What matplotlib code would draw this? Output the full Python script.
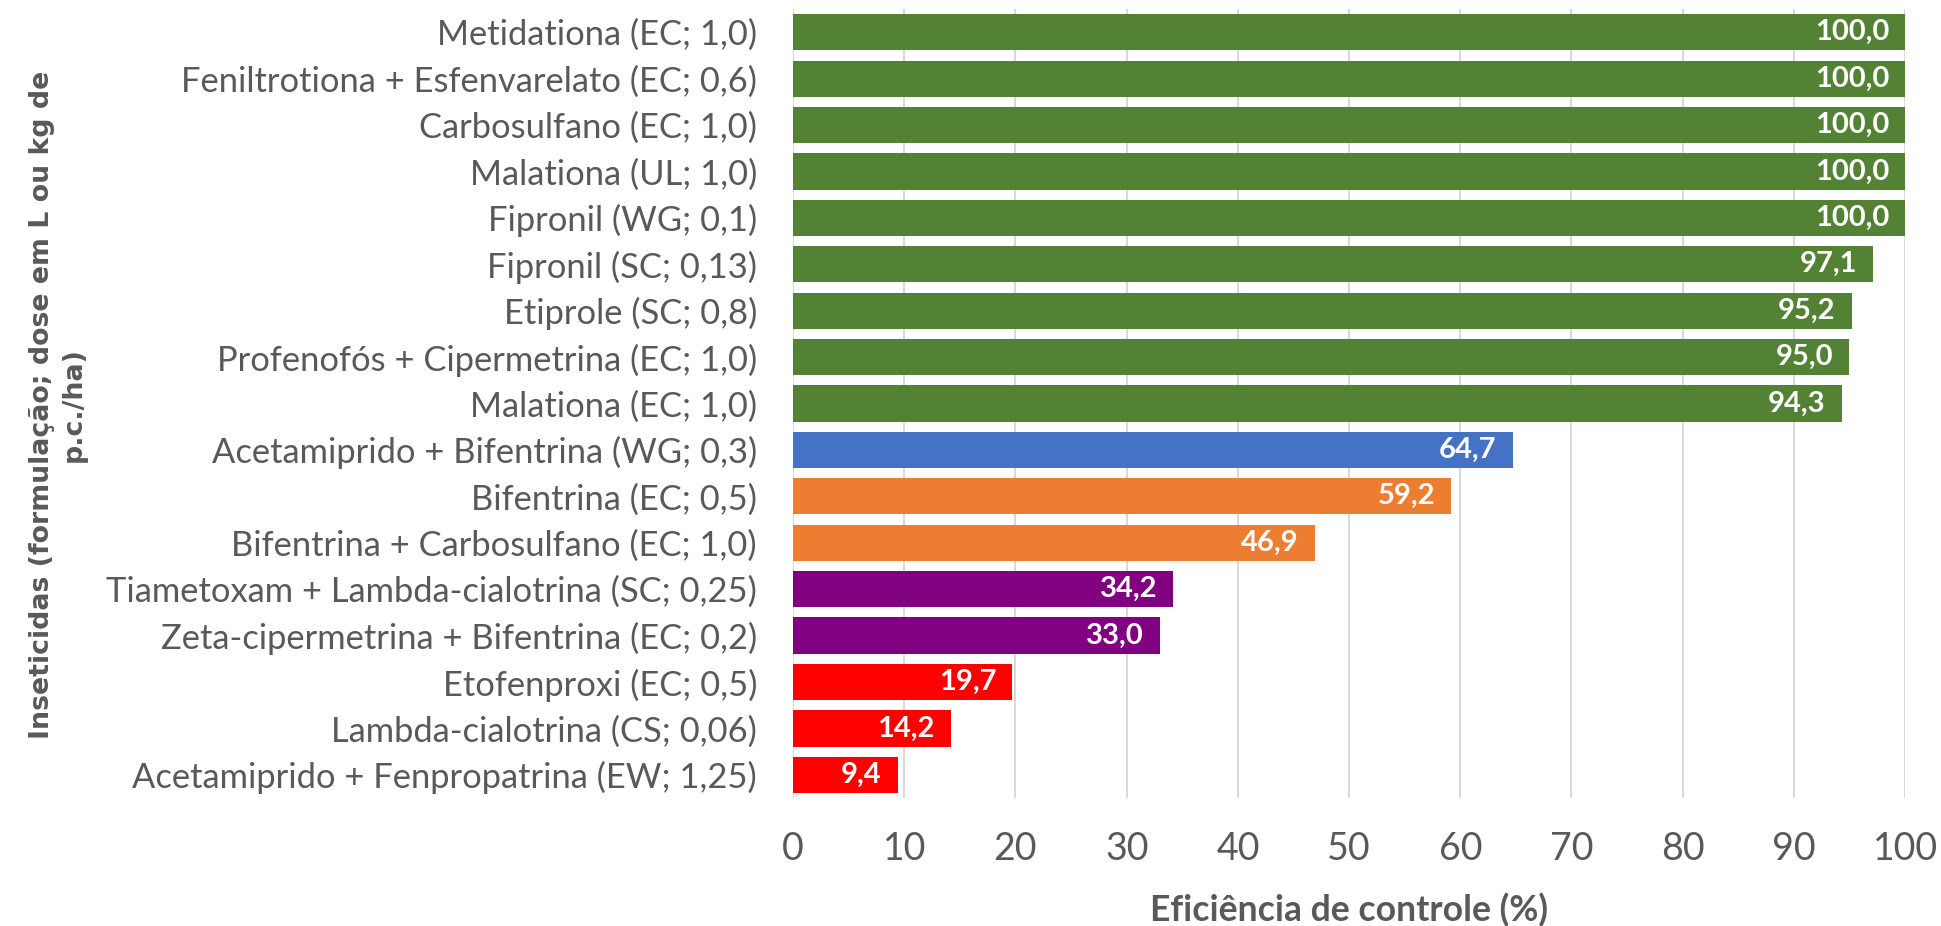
import numpy as np
import matplotlib.pyplot as plt

# Inseticidas e eficiência de controle (%)
produtos = [
    "Metidationa (EC; 1,0)",
    "Feniltrotiona + Esfenvarelato (EC; 0,6)",
    "Carbosulfano (EC; 1,0)",
    "Malationa (UL; 1,0)",
    "Fipronil (WG; 0,1)",
    "Fipronil (SC; 0,13)",
    "Etiprole (SC; 0,8)",
    "Profenofós + Cipermetrina (EC; 1,0)",
    "Malationa (EC; 1,0)",
    "Acetamiprido + Bifentrina (WG; 0,3)",
    "Bifentrina (EC; 0,5)",
    "Bifentrina + Carbosulfano (EC; 1,0)",
    "Tiametoxam + Lambda-cialotrina (SC; 0,25)",
    "Zeta-cipermetrina + Bifentrina (EC; 0,2)",
    "Etofenproxi (EC; 0,5)",
    "Lambda-cialotrina (CS; 0,06)",
    "Acetamiprido + Fenpropatrina (EW; 1,25)",
]
eficiencia = [100.0, 100.0, 100.0, 100.0, 100.0, 97.1, 95.2, 95.0, 94.3,
              64.7, 59.2, 46.9, 34.2, 33.0, 19.7, 14.2, 9.4]
grupo = ["verde"] * 9 + ["azul"] + ["laranja"] * 2 + ["roxo"] * 2 + ["vermelho"] * 3

cores = {
    "verde": "#548235",
    "azul": "#4472C4",
    "laranja": "#ED7D31",
    "roxo": "#800080",
    "vermelho": "#FF0000",
}
cinza = "#595959"

plt.rcParams['font.family'] = ['Lato', 'DejaVu Sans']

fig = plt.figure(figsize=(19.41, 9.26), dpi=100)
ax = fig.add_axes([0.4086, 0.1382, 0.5729, 0.8521])

y = np.arange(len(produtos))
barras = ax.barh(y, eficiencia, height=0.78,
                 color=[cores[g] for g in grupo], zorder=3)

for b, v in zip(barras, eficiencia):
    ax.annotate(f"{v:.1f}".replace('.', ','),
                xy=(b.get_width(), b.get_y() + b.get_height() / 2),
                xytext=(-16, 0), textcoords='offset pixels',
                ha='right', va='center', color='white',
                fontsize=21, fontweight='bold', zorder=4)

ax.set_xlim(0, 100)
ax.set_ylim(len(produtos) - 0.5, -0.5)
ax.set_xticks(np.arange(0, 101, 10))
ax.set_yticks(y)
ax.set_yticklabels(produtos)

ax.grid(axis='x', color='#D9D9D9', linewidth=1.5, zorder=0)
ax.grid(axis='y', visible=False)
for s in ['top', 'right', 'bottom', 'left']:
    ax.spines[s].set_visible(False)

ax.tick_params(axis='y', length=0, pad=26, labelsize=24.8, labelcolor=cinza)
ax.tick_params(axis='x', length=0, pad=24, labelsize=27, labelcolor=cinza)

ax.set_xlabel("Eficiência de controle (%)", fontsize=25.6, fontweight='bold',
              color=cinza, va='center')
ax.xaxis.set_label_coords(0.5, -0.142)

fig.text(0.030, 0.5626, "Inseticidas (formulação; dose em L ou kg de\np.c./ha)",
         rotation=90, ha='center', va='center', ma='center',
         fontsize=19.3, fontweight='bold', color=cinza,
         family='DejaVu Sans', linespacing=1.3)

fig.savefig("out.png", dpi=100)
